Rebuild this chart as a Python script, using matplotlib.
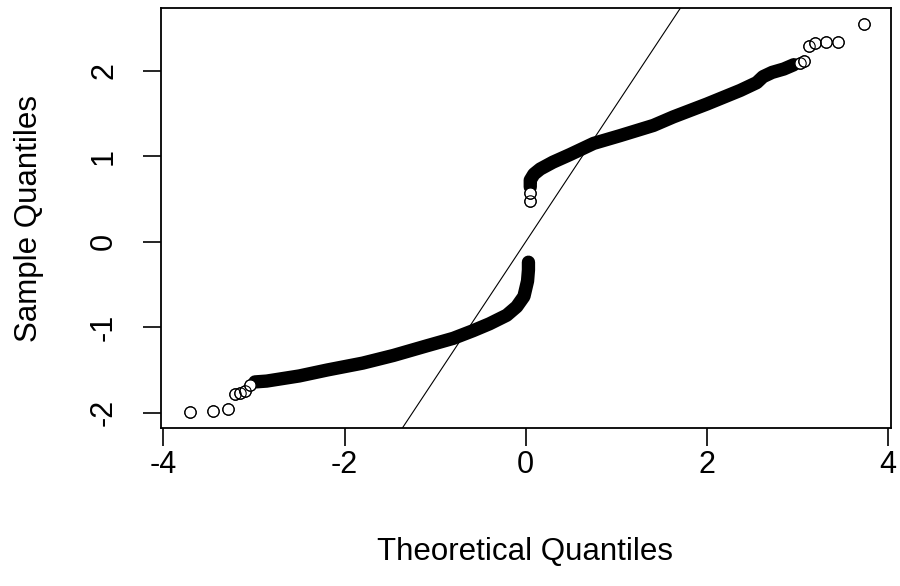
import matplotlib
matplotlib.use("Agg")
from matplotlib import pyplot as plt

plt.rcParams['font.family'] = ['Liberation Sans', 'DejaVu Sans']

# dense part of the normal QQ plot (theoretical, sample)
lower_x = [-2.99, -2.86, -2.50, -2.19, -1.80, -1.46, -1.10, -0.80, -0.58,
           -0.40, -0.21, -0.10, -0.02, 0.02, 0.03, 0.03]
lower_y = [-1.64, -1.63, -1.57, -1.50, -1.42, -1.33, -1.22, -1.13, -1.04,
           -0.96, -0.86, -0.76, -0.64, -0.46, -0.33, -0.24]
upper_x = [0.05, 0.05, 0.09, 0.16, 0.30, 0.49, 0.75, 1.04, 1.41, 1.63,
           2.00, 2.37, 2.55, 2.62, 2.72, 2.85, 2.96]
upper_y = [0.64, 0.72, 0.79, 0.85, 0.93, 1.02, 1.15, 1.24, 1.36, 1.46,
           1.61, 1.77, 1.86, 1.93, 1.98, 2.02, 2.07]

# single points that still show as open circles
tail_x = [-3.71, -3.457, -3.287, -3.206, -3.151, -3.096, -3.048, 0.05, 0.05,
          3.03, 3.074, 3.13, 3.195, 3.317, 3.446, 3.736]
tail_y = [-1.995, -1.977, -1.96, -1.785, -1.766, -1.743, -1.676, 0.48, 0.57,
          2.087, 2.113, 2.29, 2.32, 2.332, 2.332, 2.546]

# qqline
line_a = 0.0
line_b = 1.6

xticks = [-4, -2, 0, 2, 4]
yticks = [-2, -1, 0, 1, 2]

fig = plt.figure(figsize=(9, 5.86), dpi=100)
ax = fig.add_axes([0.1786, 0.2696, 0.8111, 0.7167])

# many overlapping open circles -> solid band as wide as one circle
band = dict(color='black', lw=9.6, solid_capstyle='round',
            solid_joinstyle='round')
ax.plot(lower_x, lower_y, **band)
ax.plot(upper_x, upper_y, **band)
ax.plot(tail_x, tail_y, 'o', ms=8.2, mfc='white', mec='black', mew=0.8,
        ls='none')
ax.plot(tail_x, tail_y, 'o', ms=8.2, mfc='none', mec='black', mew=0.8,
        ls='none')

ax.axline((0, line_a), slope=line_b, color='black', lw=0.8)

ax.set_xlim(-4.03, 4.03)
ax.set_ylim(-2.179, 2.733)
ax.set_xticks(xticks)
ax.set_yticks(yticks)
ax.set_xticklabels([str(t) for t in xticks])
ax.set_yticklabels([str(t) for t in yticks], rotation=90, va='center')
ax.tick_params(axis='both', length=13, width=1.2, direction='out',
               labelsize=22, colors='black')
ax.tick_params(axis='x', pad=3)
ax.tick_params(axis='y', pad=17)
for s in ax.spines.values():
    s.set_linewidth(1.3)

fig.text(525 / 900, 1 - 552 / 586, "Theoretical Quantiles", ha='center',
         va='center', fontsize=22.5)
fig.text(29 / 900, 1 - 218 / 586, "Sample Quantiles", ha='center',
         va='center', fontsize=22.5, rotation=90)

fig.savefig("out.png", dpi=100)
